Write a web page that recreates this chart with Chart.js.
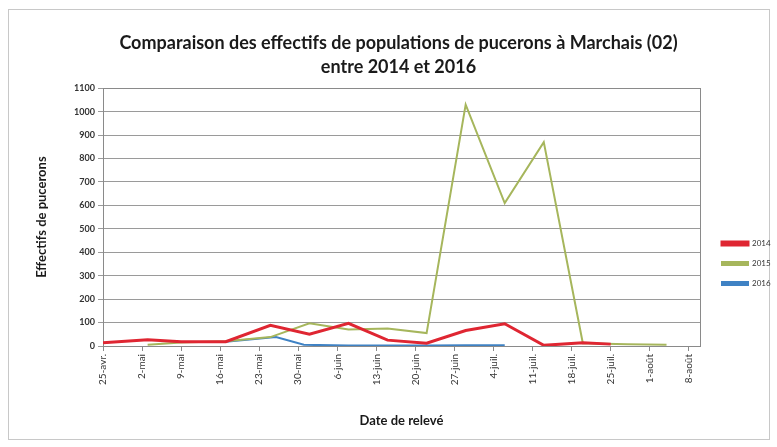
<!DOCTYPE html>
<html><head><meta charset="utf-8">
<script src="https://cdn.jsdelivr.net/npm/chart.js@4/dist/chart.umd.min.js"></script>
<style>html,body{margin:0;padding:0;background:#fff}#wrap{width:777px;height:447px;position:relative}</style>
</head><body><div id="wrap"><canvas id="c" width="777" height="447"></canvas></div>
<script>
// ---- data ----
const axisStart = '25/04';
const xTickLabels = ['25-avr.','2-mai','9-mai','16-mai','23-mai','30-mai','6-juin','13-juin','20-juin','27-juin','4-juil.','11-juil.','18-juil.','25-juil.','1-août','8-août'];
const seriesNames = ['2014','2015','2016'];
const dates2014 = ['25/04','03/05','09/05','17/05','25/05','01/06','08/06','15/06','22/06','29/06','06/07','13/07','20/07','25/07'];
const values2014 = [14,27,18,18,88,50,97,25,12,66,95,3,14,8];
const dates2015 = ['03/05','09/05','17/05','25/05','01/06','08/06','15/06','22/06','29/06','06/07','13/07','20/07','28/07','04/08'];
const values2015 = [5,15,20,38,97,70,75,55,1030,610,870,12,8,5];
const dates2016 = ['17/05','26/05','31/05','08/06','15/06','22/06','29/06','06/07'];
const values2016 = [18,38,5,2,2,2,3,3];
const yTicks = {min:0, max:1100, step:100};

// ---- helpers ----
function dayOffset(s){
  const [d,m] = s.split('/').map(Number);
  const [d0,m0] = axisStart.split('/').map(Number);
  return Math.round((Date.UTC(2014,m-1,d) - Date.UTC(2014,m0-1,d0))/86400000);
}
function pts(dates, vals){ return dates.map((d,i)=>({x:dayOffset(d), y:vals[i]})); }

const FONT = 'Lato, "Open Sans", sans-serif';
const colors = ['#df2632','#a6b65c','#3f82c4'];
const widths = [3,2,2];

const frame = {
  id:'frame',
  beforeDraw(chart){
    const c = chart.ctx;
    c.save();
    c.fillStyle = '#fff';
    c.fillRect(0,0,chart.width,chart.height);
    c.strokeStyle = '#c8c8c8';
    c.lineWidth = 1;
    c.strokeRect(8.5,9.5,761,430);
    c.restore();
  },
  beforeDatasetsDraw(chart){
    const a = chart.chartArea, c = chart.ctx;
    c.save();
    c.strokeStyle = '#8a8a8a';
    c.lineWidth = 1;
    c.strokeRect(Math.round(a.left)+0.5, Math.round(a.top)+0.5, Math.round(a.right-a.left), Math.round(a.bottom-a.top));
    c.restore();
  }
};
const legendFix = {
  id:'legendFix',
  beforeLayout(chart){
    const lg = chart.legend;
    if (lg && !lg._fx){
      const f = lg.fit.bind(lg);
      lg.fit = function(){ f(); this.width = 77; };
      lg._fx = true;
    }
  },
  afterLayout(chart){
    const lg = chart.legend;
    if (lg){ lg.left += 10; lg.right += 10; lg.top += 40; lg.bottom += 40; }
  }
};

new Chart(document.getElementById('c'), {
  type:'line',
  data:{
    datasets:[
      {label:seriesNames[0], data:pts(dates2014,values2014)},
      {label:seriesNames[1], data:pts(dates2015,values2015)},
      {label:seriesNames[2], data:pts(dates2016,values2016)}
    ].map((d,i)=>Object.assign(d,{borderColor:colors[i], backgroundColor:colors[i], borderWidth:widths[i], pointRadius:0, tension:0, fill:false}))
  },
  options:{
    responsive:false, animation:false, devicePixelRatio:1,
    layout:{padding:{left:20,right:0,top:0,bottom:0}},
    plugins:{
      title:{display:true, text:['Comparaison des effectifs de populations de pucerons à Marchais (02)','entre 2014 et 2016'],
        color:'#1a1a1a', font:{family:FONT, size:18, weight:'bold', lineHeight:1.34}, padding:{top:31,bottom:9}},
      legend:{display:true, position:'right', align:'center',
        labels:{boxWidth:26, boxHeight:3, padding:12, color:'#333', font:{family:FONT, size:8}}},
      tooltip:{enabled:false}
    },
    scales:{
      x:{type:'linear', min:0, max:107,
        afterBuildTicks(s){ s.ticks = xTickLabels.map((_,i)=>({value:i*7})); },
        afterFit(s){ s.height = 101; },
        ticks:{stepSize:7, autoSkip:false, includeBounds:false, minRotation:90, maxRotation:90, padding:3, color:'#333',
          font:{family:FONT, size:10}, callback:(v)=>xTickLabels[Math.round(v/7)]},
        grid:{drawOnChartArea:false, drawTicks:true, tickLength:5, color:'#8a8a8a'},
        border:{color:'#8a8a8a'},
        title:{display:true, text:'Date de relevé', color:'#1a1a1a', font:{family:FONT, size:13, weight:'bold'}, padding:{top:0,bottom:18}}
      },
      y:{min:yTicks.min, max:yTicks.max,
        afterFit(s){ s.width = 83; },
        ticks:{stepSize:yTicks.step, padding:3, color:'#333', font:{family:FONT, size:9, weight:'bold'}, callback:(v)=>String(v)},
        grid:{color:'#9a9a9a', tickLength:5},
        border:{color:'#8a8a8a'},
        title:{display:true, text:'Effectifs de pucerons', color:'#1a1a1a', font:{family:FONT, size:13, weight:'bold'}, padding:{top:14,bottom:0}}
      }
    }
  },
  plugins:[frame, legendFix]
});
</script></body></html>
